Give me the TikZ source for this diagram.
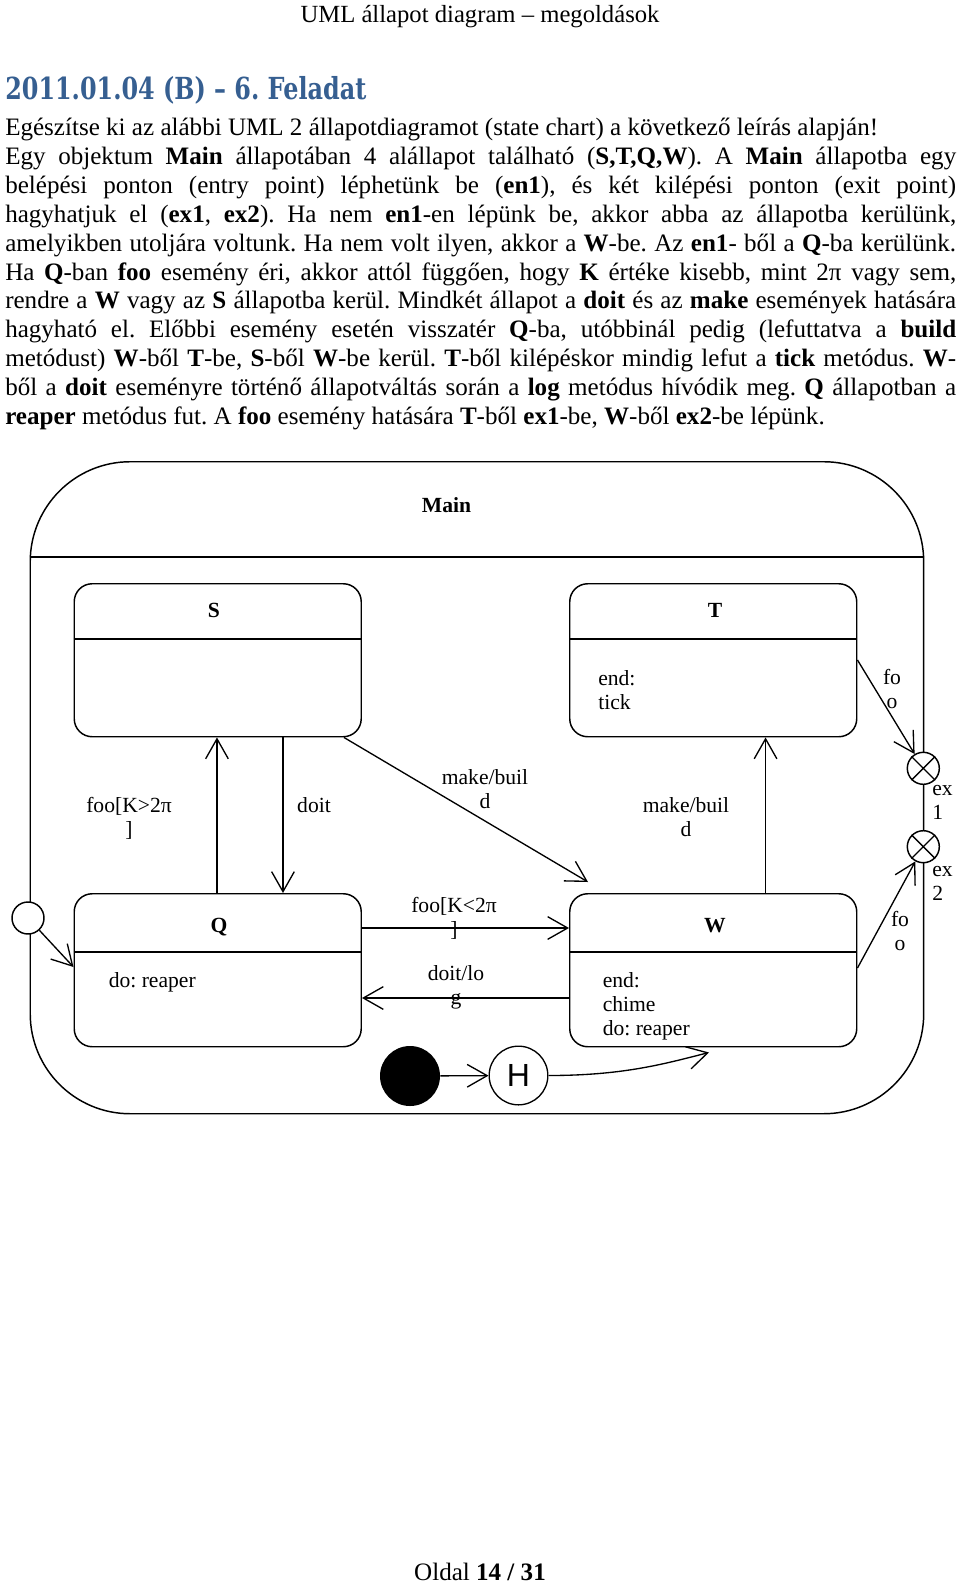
\documentclass[tikz,border=0pt]{standalone}
\usepackage{fontspec}
\usepackage{graphicx}
\setmainfont{Liberation Serif}
\newfontfamily\titlefont{DejaVu Serif}
\newfontfamily\hfont{Liberation Sans}
\usetikzlibrary{arrows.meta,calc}
\definecolor{titleblue}{HTML}{365F91}
\frenchspacing
\begin{document}
\begin{tikzpicture}[x=0.75pt,y=-0.75pt,
  txt/.style={inner sep=0pt, anchor=base west, font=\fontsize{18.8pt}{21.7pt}\selectfont\frenchspacing},
  lbl/.style={inner sep=0pt, anchor=base, font=\fontsize{16.2pt}{18pt}\selectfont},
  lblb/.style={lbl, font=\fontsize{16.2pt}{18pt}\selectfont\bfseries},
  box/.style={draw, line width=1.1pt, rounded corners=13.5pt, inner sep=0pt, anchor=north west, minimum width=215.25pt, minimum height=114.75pt},
  hline/.style={line width=1.1pt},
  arr/.style={line width=1pt, -{Straight Barb[length=15pt,width=17pt,line width=1pt]}},
  expt/.style={circle, draw, fill=white, minimum size=24pt, inner sep=0pt, line width=1.1pt}]
\fill[white] (0,0) rectangle (960,1584);
\useasboundingbox (0,0) rectangle (960,1584);

% page header, title and text
\node[inner sep=0pt, anchor=base, font=\fontsize{18.5pt}{20pt}\selectfont] (hdr) at (480,22.5) {UML állapot diagram – megoldások};
\node[inner sep=0pt, anchor=base west, text=titleblue] (title) at (5,100) {\resizebox{270.75pt}{17.3pt}{\titlefont\bfseries 2011.01.04 (B) – 6. Feladat}};
\node[txt] (l1) at (5,136) {Egészítse ki az alábbi UML 2 állapotdiagramot (state chart) a következő leírás alapján!};
\node[txt] (l2) at (5,164.8) {\makebox[713.25pt][s]{Egy objektum \textbf{Main} állapotában 4 alállapot található (\textbf{S,T,Q,W}). A \textbf{Main} állapotba egy}};
\node[txt] (l3) at (5,193.6) {\makebox[713.25pt][s]{belépési ponton (entry point) léphetünk be (\textbf{en1}), és két kilépési ponton (exit point)}};
\node[txt] (l4) at (5,222.4) {\makebox[713.25pt][s]{hagyhatjuk el (\textbf{ex1}, \textbf{ex2}). Ha nem \textbf{en1}-en lépünk be, akkor abba az állapotba kerülünk,}};
\node[txt] (l5) at (5,251.2) {\makebox[713.25pt][s]{amelyikben utoljára voltunk. Ha nem volt ilyen, akkor a \textbf{W}-be. Az \textbf{en1}- ből a \textbf{Q}-ba kerülünk.}};
\node[txt] (l6) at (5,280) {\makebox[713.25pt][s]{Ha \textbf{Q}-ban \textbf{foo} esemény éri, akkor attól függően, hogy \textbf{K} értéke kisebb, mint 2π vagy sem,}};
\node[txt] (l7) at (5,308.8) {\makebox[713.25pt][s]{rendre a \textbf{W} vagy az \textbf{S} állapotba kerül. Mindkét állapot a \textbf{doit} és az \textbf{make} események hatására}};
\node[txt] (l8) at (5,337.6) {\makebox[713.25pt][s]{hagyható el. Előbbi esemény esetén visszatér \textbf{Q}-ba, utóbbinál pedig (lefuttatva a \textbf{build}}};
\node[txt] (l9) at (5,366.4) {\makebox[713.25pt][s]{metódust) \textbf{W}-ből \textbf{T}-be, \textbf{S}-ből \textbf{W}-be kerül. \textbf{T}-ből kilépéskor mindig lefut a \textbf{tick} metódus. \textbf{W}-}};
\node[txt] (l10) at (5,395.2) {\makebox[713.25pt][s]{ből a \textbf{doit} eseményre történő állapotváltás során a \textbf{log} metódus hívódik meg. \textbf{Q} állapotban a}};
\node[txt] (l11) at (5,424) {\textbf{reaper} metódus fut. A \textbf{foo} esemény hatására \textbf{T}-ből \textbf{ex1}-be, \textbf{W}-ből \textbf{ex2}-be lépünk.};
\node[inner sep=0pt, anchor=base, font=\fontsize{18.8pt}{21pt}\selectfont] (ftr) at (480,1580) {Oldal \textbf{14 / 31}};

% Main composite state
\node[draw, line width=1.1pt, rounded corners=75pt, inner sep=0pt, anchor=north west, minimum width=670.1pt, minimum height=489pt] (main) at (29.5,461) {};
\draw[hline] (29.5,557) -- (923,557);
\node[lblb] (mainlbl) at (446.5,512.5) {Main};

% states
\node[box] (S) at (73.5,583) {};
\draw[hline] (73.5,639) -- (360.5,639);
\node[lblb] (Slbl) at (214,617) {S};

\node[box] (T) at (569,583) {};
\draw[hline] (569,639) -- (856,639);
\node[lblb] (Tlbl) at (715,617) {T};
\node[lbl, anchor=base west] (Tbody) at (598,685) {\begin{tabular}[t]{@{}l@{}}end:\\tick\end{tabular}};

\node[box] (Q) at (73.5,893) {};
\draw[hline] (73.5,952) -- (360.5,952);
\node[lblb] (Qlbl) at (219,932) {Q};
\node[lbl, anchor=base west] (Qbody) at (108.5,987) {do: reaper};

\node[box] (W) at (569,893) {};
\draw[hline] (569,952) -- (856,952);
\node[lblb] (Wlbl) at (715,932) {W};
\node[lbl, anchor=base west] (Wbody) at (602.5,987) {\begin{tabular}[t]{@{}l@{}}end:\\chime\\do: reaper\end{tabular}};

% entry / exit points, initial and history
\node[expt] (en1) at (28,918) {};
\node[expt] (ex1) at (923.3,768.3) {};
\draw[line width=1pt] (ex1.north west) -- (ex1.south east) (ex1.north east) -- (ex1.south west);
\node[expt] (ex2) at (923.3,846.7) {};
\draw[line width=1pt] (ex2.north west) -- (ex2.south east) (ex2.north east) -- (ex2.south west);
\node[lbl, anchor=base west] (ex1lbl) at (932,795) {\begin{tabular}[t]{@{}l@{}}ex\\1\end{tabular}};
\node[lbl, anchor=base west] (ex2lbl) at (932,876) {\begin{tabular}[t]{@{}l@{}}ex\\2\end{tabular}};

\node[circle, fill=black, minimum size=45pt, inner sep=0pt] (init) at (410,1076) {};
\node[circle, draw, fill=white, line width=1pt, minimum size=44pt, inner sep=0pt, font=\hfont\fontsize{24pt}{24pt}\selectfont] (H) at (518.5,1075.5) {H};
\coordinate (hw) at ([xshift=105pt,yshift=-3.75pt]W.south west);

% transitions
\draw[arr] ([xshift=107.6pt]Q.north west) -- ([xshift=107.6pt]S.south west);
\node[lbl] (lQS) at (129,812) {\begin{tabular}[t]{@{}c@{}}foo[K>2π\\]\end{tabular}};
\draw[arr] ([xshift=157.1pt]S.south west) -- ([xshift=157.1pt]Q.north west);
\node[lbl] (lSQ) at (314,812) {doit};
\draw[arr] ([xshift=-13.5pt]S.south east) -- ([xshift=14.25pt,yshift=8.25pt]W.north west);
\node[lbl] (lSW) at (485,784) {\begin{tabular}[t]{@{}c@{}}make/buil\\d\end{tabular}};
\draw[arr] ([xshift=147.4pt]W.north west) -- ([xshift=147.4pt]T.south west);
\node[lbl] (lWT) at (686,812) {\begin{tabular}[t]{@{}c@{}}make/buil\\d\end{tabular}};
\draw[arr] ([yshift=-26.25pt]Q.north east) -- ([yshift=-26.25pt]W.north west);
\node[lbl] (lQW) at (454,912) {\begin{tabular}[t]{@{}c@{}}foo[K<2π\\]\end{tabular}};
\draw[arr] ([yshift=-78.75pt]W.north west) -- ([yshift=-78.75pt]Q.north east);
\node[lbl] (lWQ) at (456,980) {\begin{tabular}[t]{@{}c@{}}doit/lo\\g\end{tabular}};
\draw[arr] ([yshift=-57.75pt]T.north east) -- (ex1);
\node[lbl] (lTex) at (892,684) {\begin{tabular}[t]{@{}c@{}}fo\\o\end{tabular}};
\draw[arr] ([yshift=-56.25pt]W.north east) -- (ex2);
\node[lbl] (lWex) at (900,926) {\begin{tabular}[t]{@{}c@{}}fo\\o\end{tabular}};
\draw[arr] (en1) -- ([yshift=-55.5pt]Q.north west);
\draw[arr] (init) -- (H);
\draw[arr] (H.east) .. controls ([xshift=55pt]H.east) and ([xshift=-35pt,yshift=-9pt]hw) .. (hw);
\end{tikzpicture}
\end{document}
